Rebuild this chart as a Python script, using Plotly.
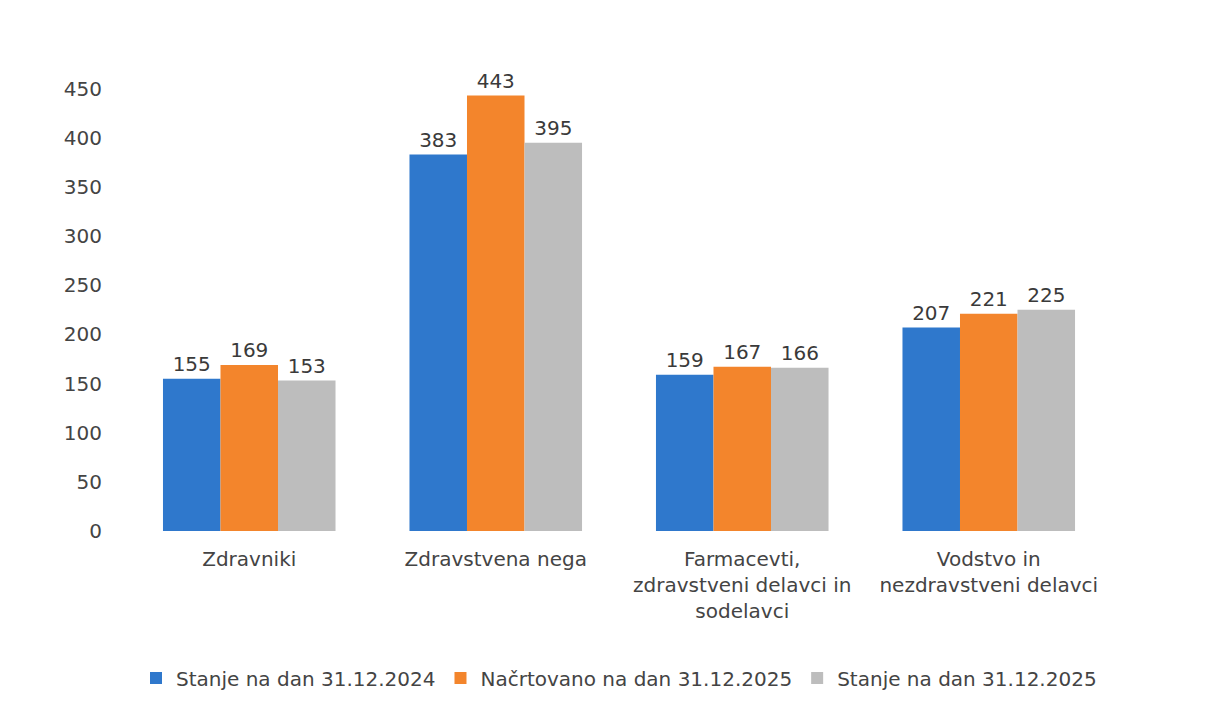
import plotly.graph_objects as go

categories = ["Zdravniki", "Zdravstvena nega",
              "Farmacevti,<br>zdravstveni delavci in<br>sodelavci",
              "Vodstvo in<br>nezdravstveni delavci"]
series_names = ["Stanje na dan 31.12.2024", "Načrtovano na dan 31.12.2025", "Stanje na dan 31.12.2025"]
values_2024 = [155, 383, 159, 207]
values_plan_2025 = [169, 443, 167, 221]
values_2025 = [153, 395, 166, 225]
colors = ["#2F78CC", "#F3852C", "#BDBDBD"]
yticks = [0, 50, 100, 150, 200, 250, 300, 350, 400, 450]

FONT = "DejaVu Sans"
TXT = "#444444"

fig = go.Figure()
for name, vals, col in zip(series_names, [values_2024, values_plan_2025, values_2025], colors):
    fig.add_trace(go.Bar(
        x=categories, y=vals, name=name,
        marker=dict(color=col, line=dict(width=0)),
        text=[str(v) for v in vals], textposition="outside",
        textfont=dict(size=20, color="#3a3a3a"),
        cliponaxis=False,
    ))

fig.update_layout(
    width=1217, height=709,
    barmode="group", bargap=0.3, bargroupgap=0,
    plot_bgcolor="white", paper_bgcolor="white",
    font=dict(family=FONT, size=20, color=TXT),
    margin=dict(l=118, r=113, t=61, b=186),
    showlegend=True,
    legend=dict(orientation="h", x=0.5, xanchor="center", y=-0.318, yanchor="middle",
                font=dict(size=20, color=TXT), itemwidth=30, traceorder="normal"),
    xaxis=dict(showgrid=False, showline=False, zeroline=False, ticks="",
               ticklabelstandoff=14, tickfont=dict(size=20, color=TXT)),
    yaxis=dict(range=[0, 470], tickvals=yticks, showgrid=False, showline=False,
               zeroline=False, ticks="", ticklabelstandoff=23,
               tickfont=dict(size=20, color=TXT)),
)

fig.write_html("out.html")
